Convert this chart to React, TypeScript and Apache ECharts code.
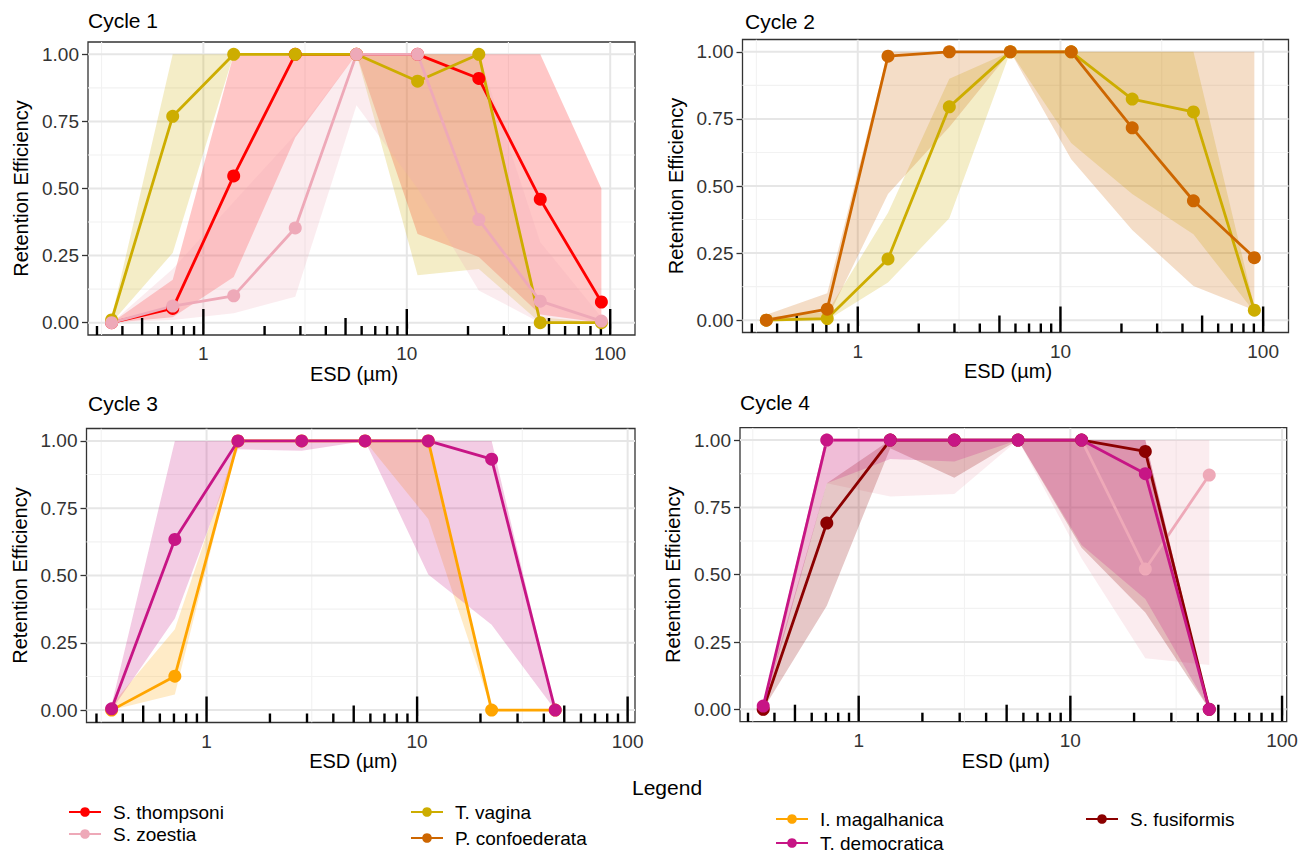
import { useEffect, useRef } from "react";
import * as echarts from "echarts";

// ---------- data ----------
const ESD_9 = [0.354, 0.707, 1.41, 2.83, 5.66, 11.3, 22.6, 45.3, 90.5];
const ESD_8 = [0.354, 0.707, 1.41, 2.83, 5.66, 11.3, 22.6, 45.3];

// Cycle 1
const c1Thompsoni = [0, 0.053, 0.547, 1, 1, 1, 0.91, 0.46, 0.077];
const c1ThompsoniLo = [0, 0.02, 0.17, 0.69, 1, 0.33, 0.245, 0.03, 0];
const c1ThompsoniHi = [0, 0.16, 1, 1, 1, 1, 1, 1, 0.5];
const c1Zoestia = [0, 0.062, 0.1, 0.353, 1, 1, 0.384, 0.08, 0.006];
const c1ZoestiaLo = [0, 0.01, 0.035, 0.097, 0.81, 0.5, 0.12, 0, 0];
const c1ZoestiaHi = [0, 0.2, 0.45, 0.7, 1, 1, 1, 0.3, 0.02];
const c1Vagina = [0.01, 0.769, 1, 1, 1, 0.9, 1, 0, 0];
const c1VaginaLo = [0, 0.26, 1, 1, 1, 0.177, 0.2, 0, 0];
const c1VaginaHi = [0.02, 1, 1, 1, 1, 1, 1, 0.02, 0];

// Cycle 2
const c2Vagina = [0, 0.006, 0.228, 0.795, 1, 1, 0.824, 0.776, 0.037];
const c2VaginaLo = [0, 0, 0.14, 0.38, 1, 0.66, 0.47, 0.32, 0.03];
const c2VaginaHi = [0.01, 0.03, 0.4, 0.9, 1, 1, 1, 1, 0.05];
const c2Confoederata = [0, 0.041, 0.984, 1, 1, 1, 0.717, 0.445, 0.233];
const c2ConfoederataLo = [0, 0.005, 0.47, 0.72, 1, 0.6, 0.336, 0.127, 0.037];
const c2ConfoederataHi = [0.02, 0.1, 1, 1, 1, 1, 1, 1, 1];

// Cycle 3
const c3Magalhanica = [0, 0.126, 1, 1, 1, 1, 0, 0];
const c3MagalhanicaLo = [0, 0.058, 1, 1, 1, 0.71, 0, 0];
const c3MagalhanicaHi = [0.02, 0.3, 1, 1, 1, 1, 0, 0];
const c3Democratica = [0.005, 0.634, 1, 1, 1, 1, 0.932, 0];
const c3DemocraticaLo = [0, 0.34, 0.969, 0.963, 1, 0.504, 0.317, 0];
const c3DemocraticaHi = [0.02, 1, 1, 1, 1, 1, 1, 0];

// Cycle 4
const c4Zoestia = [0, 1, 1, 1, 1, 1, 0.521, 0.87];
const c4ZoestiaLo = [0, 0.84, 0.79, 0.8, 1, 0.56, 0.19, 0.165];
const c4ZoestiaHi = [0.02, 1, 1, 1, 1, 1, 1, 1];
const c4Fusiformis = [0, 0.692, 1, 1, 1, 1, 0.958, 0];
const c4FusiformisLo = [0, 0.385, 0.97, 0.86, 1, 0.6, 0.36, 0];
const c4FusiformisHi = [0.02, 0.84, 1, 1, 1, 1, 1, 0];
const c4Democratica = [0.012, 1, 1, 1, 1, 1, 0.875, 0];
const c4DemocraticaLo = [0, 0.84, 0.93, 0.92, 1, 0.61, 0.41, 0];
const c4DemocraticaHi = [0.02, 1, 1, 1, 1, 1, 1, 0];

// axes
const Y_LABELS = [0, 0.25, 0.5, 0.75, 1];
const Y_MINOR = [0.125, 0.375, 0.625, 0.875];
const X_LABELS = [1, 10, 100];
const X_MINOR = [0.316, 3.16, 31.6];
const LOGTICK_SHORT = [0.3, 0.4, 0.6, 0.7, 0.8, 0.9, 2, 3, 4, 6, 7, 8, 9, 20, 30, 40, 60, 70, 80, 90];
const LOGTICK_MID = [0.5, 5, 50];
const LOGTICK_LONG = [1, 10, 100];

const SPECIES = [
  "S. thompsoni",
  "S. zoestia",
  "T. vagina",
  "P. confoederata",
  "I. magalhanica",
  "T. democratica",
  "S. fusiformis",
];

// ---------- styles ----------
const COLORS: Record<string, string> = {
  "S. thompsoni": "#FF0000",
  "S. zoestia": "#EEA9B8",
  "T. vagina": "#CDAD00",
  "P. confoederata": "#CD6600",
  "I. magalhanica": "#FFA500",
  "T. democratica": "#C71585",
  "S. fusiformis": "#8B0000",
};
const FONT = '"Liberation Sans", Arial, Helvetica, sans-serif';
const Y_MIN = -0.046;
const Y_MAX = 1.046;
const TICK_LEN = [9, 17, 26];
const BAND_ALPHA = 0.22;

type SpeciesData = { name: string; y: number[]; lo: number[]; hi: number[] };
type Panel = {
  title: string;
  titlePos: { left: number; top: number };
  grid: { left: number; top: number; width: number; height: number };
  xMin: number;
  xMax: number;
  xs: number[];
  species: SpeciesData[];
};

const PANELS: Panel[] = [
  {
    title: "Cycle 1",
    titlePos: { left: 88, top: 10 },
    grid: { left: 88, top: 42, width: 547, height: 293 },
    xMin: 0.271,
    xMax: 132.4,
    xs: ESD_9,
    species: [
      { name: "S. thompsoni", y: c1Thompsoni, lo: c1ThompsoniLo, hi: c1ThompsoniHi },
      { name: "T. vagina", y: c1Vagina, lo: c1VaginaLo, hi: c1VaginaHi },
      { name: "S. zoestia", y: c1Zoestia, lo: c1ZoestiaLo, hi: c1ZoestiaHi },
    ],
  },
  {
    title: "Cycle 2",
    titlePos: { left: 745, top: 11 },
    grid: { left: 742.5, top: 39.5, width: 546, height: 293 },
    xMin: 0.27,
    xMax: 133.4,
    xs: ESD_9,
    species: [
      { name: "T. vagina", y: c2Vagina, lo: c2VaginaLo, hi: c2VaginaHi },
      { name: "P. confoederata", y: c2Confoederata, lo: c2ConfoederataLo, hi: c2ConfoederataHi },
    ],
  },
  {
    title: "Cycle 3",
    titlePos: { left: 88, top: 393 },
    grid: { left: 86.5, top: 428.5, width: 548.5, height: 294 },
    xMin: 0.269,
    xMax: 108.4,
    xs: ESD_8,
    species: [
      { name: "I. magalhanica", y: c3Magalhanica, lo: c3MagalhanicaLo, hi: c3MagalhanicaHi },
      { name: "T. democratica", y: c3Democratica, lo: c3DemocraticaLo, hi: c3DemocraticaHi },
    ],
  },
  {
    title: "Cycle 4",
    titlePos: { left: 740, top: 392 },
    grid: { left: 740, top: 427.7, width: 546.7, height: 294 },
    xMin: 0.275,
    xMax: 105.2,
    xs: ESD_8,
    species: [
      { name: "S. zoestia", y: c4Zoestia, lo: c4ZoestiaLo, hi: c4ZoestiaHi },
      { name: "S. fusiformis", y: c4Fusiformis, lo: c4FusiformisLo, hi: c4FusiformisHi },
      { name: "T. democratica", y: c4Democratica, lo: c4DemocraticaLo, hi: c4DemocraticaHi },
    ],
  },
];

// legend item vertical centres and left edges
const LEGEND_POS: Record<string, { left: number; cy: number }> = {
  "S. thompsoni": { left: 68, cy: 812 },
  "S. zoestia": { left: 68, cy: 834 },
  "T. vagina": { left: 410, cy: 812 },
  "P. confoederata": { left: 410, cy: 838 },
  "I. magalhanica": { left: 775, cy: 819 },
  "T. democratica": { left: 775, cy: 843 },
  "S. fusiformis": { left: 1085, cy: 819 },
};

function hexToRgba(hex: string, a: number) {
  const n = parseInt(hex.slice(1), 16);
  return `rgba(${(n >> 16) & 255},${(n >> 8) & 255},${n & 255},${a})`;
}

function buildOption() {
  const grid: any[] = [];
  const xAxis: any[] = [];
  const yAxis: any[] = [];
  const series: any[] = [];
  const title: any[] = [];

  PANELS.forEach((p, gi) => {
    grid.push({
      ...p.grid,
      show: true,
      borderColor: "#333333",
      borderWidth: 1.3,
      backgroundColor: "transparent",
      containLabel: false,
    });
    title.push({
      text: p.title,
      left: p.titlePos.left,
      top: p.titlePos.top,
      padding: 0,
      textStyle: { fontSize: 21, fontWeight: "normal", color: "#000", fontFamily: FONT },
    });
    xAxis.push({
      type: "log",
      logBase: 10,
      gridIndex: gi,
      min: p.xMin,
      max: p.xMax,
      axisLine: { show: false },
      axisTick: {
        show: true,
        length: 6,
        customValues: X_LABELS,
        lineStyle: { color: "#333333", width: 1.3 },
      },
      axisLabel: {
        customValues: X_LABELS,
        fontSize: 19,
        color: "#333333",
        fontFamily: FONT,
        margin: 9,
        formatter: (v: number) => String(v),
      },
      splitLine: { show: false },
      minorSplitLine: { show: false },
      name: "ESD (µm)",
      nameLocation: "middle",
      nameGap: 25,
      nameTextStyle: { fontSize: 20, color: "#000", fontFamily: FONT, padding: [0, 15, 0, 0] },
    });
    yAxis.push({
      type: "value",
      gridIndex: gi,
      min: Y_MIN,
      max: Y_MAX,
      axisLine: { show: false },
      axisTick: {
        show: true,
        length: 6,
        customValues: Y_LABELS,
        lineStyle: { color: "#333333", width: 1.3 },
      },
      axisLabel: {
        customValues: Y_LABELS,
        fontSize: 19,
        color: "#333333",
        fontFamily: FONT,
        margin: 9,
        formatter: (v: number) => v.toFixed(2),
      },
      splitLine: { show: false },
      name: "Retention Efficiency",
      nameLocation: "middle",
      nameGap: 57,
      nameTextStyle: { fontSize: 20, color: "#000", fontFamily: FONT },
    });

    // grid lines
    const hLine = (color: string, width: number) => (params: any, api: any) => {
      const cs = params.coordSys;
      const y = api.coord([1, api.value(1)])[1];
      return {
        type: "line",
        shape: { x1: cs.x, y1: y, x2: cs.x + cs.width, y2: y },
        style: { stroke: color, lineWidth: width },
      };
    };
    const vLine = (color: string, width: number) => (params: any, api: any) => {
      const cs = params.coordSys;
      const x = api.coord([api.value(0), 0.5])[0];
      return {
        type: "line",
        shape: { x1: x, y1: cs.y, x2: x, y2: cs.y + cs.height },
        style: { stroke: color, lineWidth: width },
      };
    };
    const gridSeries = (data: number[][], render: any) => ({
      type: "custom",
      xAxisIndex: gi,
      yAxisIndex: gi,
      data,
      renderItem: render,
      silent: true,
      z: 1,
      clip: true,
    });
    series.push(gridSeries(Y_MINOR.map((v) => [1, v]), hLine("#F2F2F2", 1.1)));
    series.push(gridSeries(X_MINOR.map((v) => [v, 0.5]), vLine("#F2F2F2", 1.1)));
    series.push(gridSeries(Y_LABELS.map((v) => [1, v]), hLine("#E6E6E6", 2)));
    series.push(gridSeries(X_LABELS.map((v) => [v, 0.5]), vLine("#E6E6E6", 2)));

    // ribbons
    p.species.forEach((s) => {
      const fill = hexToRgba(COLORS[s.name], BAND_ALPHA);
      series.push({
        type: "custom",
        name: "band " + s.name,
        xAxisIndex: gi,
        yAxisIndex: gi,
        data: p.xs.map((x, i) => [x, s.lo[i], s.hi[i]]),
        silent: true,
        z: 2,
        clip: true,
        renderItem: (params: any, api: any) => {
          if (params.dataIndex !== 0) return null;
          const pts: number[][] = [];
          for (let i = 0; i < p.xs.length; i++) pts.push(api.coord([p.xs[i], s.hi[i]]));
          for (let i = p.xs.length - 1; i >= 0; i--) pts.push(api.coord([p.xs[i], s.lo[i]]));
          return { type: "polygon", shape: { points: pts }, style: { fill, stroke: null } };
        },
      });
    });

    // log ticks
    const tickData = [
      ...LOGTICK_SHORT.map((x) => [x, Y_MIN, 0]),
      ...LOGTICK_MID.map((x) => [x, Y_MIN, 1]),
      ...LOGTICK_LONG.map((x) => [x, Y_MIN, 2]),
    ];
    series.push({
      type: "custom",
      xAxisIndex: gi,
      yAxisIndex: gi,
      data: tickData,
      silent: true,
      z: 3,
      clip: false,
      renderItem: (params: any, api: any) => {
        const pt = api.coord([api.value(0), Y_MIN]);
        const h = TICK_LEN[api.value(2)];
        return {
          type: "line",
          shape: { x1: pt[0], y1: pt[1], x2: pt[0], y2: pt[1] - h },
          style: { stroke: "#000", lineWidth: 2.4 },
        };
      },
    });

    // lines + points
    p.species.forEach((s) => {
      const c = COLORS[s.name];
      series.push({
        type: "line",
        name: s.name,
        xAxisIndex: gi,
        yAxisIndex: gi,
        data: p.xs.map((x, i) => [x, s.y[i]]),
        symbol: "circle",
        symbolSize: 13,
        showSymbol: true,
        lineStyle: { color: c, width: 2.8 },
        itemStyle: { color: c },
        emphasis: { disabled: true },
        z: 4,
        clip: false,
      });
    });
  });

  title.push({
    text: "Legend",
    left: 632,
    top: 777,
    padding: 0,
    textStyle: { fontSize: 21, fontWeight: "normal", color: "#000", fontFamily: FONT },
  });

  const LEGEND_FONT = 19;
  const legend = SPECIES.map((name) => ({
    show: true,
    orient: "vertical",
    left: LEGEND_POS[name].left,
    top: LEGEND_POS[name].cy - LEGEND_FONT / 2,
    padding: 0,
    data: [name],
    itemWidth: 32,
    itemHeight: 12,
    selectedMode: false,
    textStyle: { fontSize: LEGEND_FONT, color: "#000", fontFamily: FONT, padding: [0, 0, 0, 7] },
  }));

  return {
    animation: false,
    backgroundColor: "#ffffff",
    title,
    grid,
    xAxis,
    yAxis,
    series,
    legend,
  };
}

export default function App() {
  const ref = useRef<HTMLDivElement>(null);
  useEffect(() => {
    if (!ref.current) return;
    const chart = echarts.init(ref.current, undefined, { renderer: "svg" });
    chart.setOption(buildOption() as any);
    return () => chart.dispose();
  }, []);
  return (
    <div
      ref={ref}
      style={{ position: "fixed", left: 0, top: 0, width: 1302, height: 852, background: "#fff" }}
    />
  );
}
